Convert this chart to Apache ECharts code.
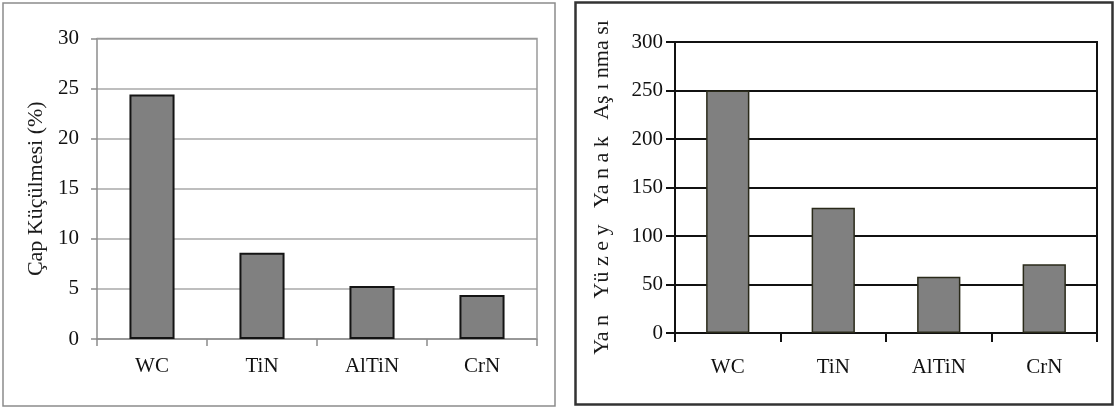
<!DOCTYPE html>
<html>
<head>
<meta charset="utf-8">
<script src="https://cdn.jsdelivr.net/npm/echarts@6/dist/echarts.min.js"></script>
<style>
  html, body { margin: 0; padding: 0; background: #fff; }
  #chart { width: 1116px; height: 409px; }
</style>
</head>
<body>
<div id="chart"></div>
<script>
// Coatings compared in both panels
const categories = ['WC', 'TiN', 'AlTiN', 'CrN'];
// Diameter reduction (%)
const capKuculmesi = [24.4, 8.6, 5.3, 4.4];
// Flank wear
const yanakAsinmasi = [250, 129, 58, 71];

const leftTicks = { min: 0, max: 30, interval: 5 };
const rightTicks = { min: 0, max: 300, interval: 50 };

const leftName = 'Çap Küçülmesi (%)';
const rightName = 'Ya n   Yü z e y   Ya n a k   Aş ı nma sı';

const FONT = '"Liberation Serif", "Times New Roman", serif';
const textStyle = { fontFamily: FONT, fontSize: 21, color: '#111111' };

const chart = echarts.init(document.getElementById('chart'), null, { renderer: 'canvas' });

chart.setOption({
  backgroundColor: '#ffffff',
  animation: false,
  graphic: [
    { type: 'rect', shape: { x: 3, y: 3, width: 552, height: 403 },
      style: { fill: 'none', stroke: '#8c8c8c', lineWidth: 1.5 }, z: 0 },
    { type: 'rect', shape: { x: 575.5, y: 2.5, width: 537, height: 402 },
      style: { fill: 'none', stroke: '#333333', lineWidth: 2.5 }, z: 0 },
    // plot-area frames (top & right edges)
    { type: 'polyline', shape: { points: [[97, 38.5], [537, 38.5], [537, 339]] },
      style: { fill: 'none', stroke: '#9a9a9a', lineWidth: 1.5 }, z: 1 },
    { type: 'polyline', shape: { points: [[675, 42], [1097, 42], [1097, 333]] },
      style: { fill: 'none', stroke: '#111111', lineWidth: 2 }, z: 1 }
  ],
  grid: [
    { left: 97, top: 38.5, width: 440, height: 300.5 },
    { left: 675, top: 42, width: 422, height: 291 }
  ],
  xAxis: [
    {
      gridIndex: 0, type: 'category', data: categories,
      axisLine: { lineStyle: { color: '#8c8c8c', width: 1.5 } },
      axisTick: { show: true, length: 7, lineStyle: { color: '#8c8c8c', width: 1.5 } },
      axisLabel: Object.assign({ margin: 17 }, textStyle)
    },
    {
      gridIndex: 1, type: 'category', data: categories,
      axisLine: { lineStyle: { color: '#111111', width: 2 } },
      axisTick: { show: true, length: 9, lineStyle: { color: '#111111', width: 2 } },
      axisLabel: Object.assign({ margin: 24 }, textStyle)
    }
  ],
  yAxis: [
    {
      gridIndex: 0, type: 'value',
      min: leftTicks.min, max: leftTicks.max, interval: leftTicks.interval,
      name: leftName, nameLocation: 'middle', nameRotate: 90, nameGap: 50,
      nameTextStyle: { fontFamily: FONT, fontSize: 22, color: '#1a1a1a' },
      axisLine: { show: true, lineStyle: { color: '#8c8c8c', width: 1.5 } },
      axisTick: { show: true, length: 6, lineStyle: { color: '#8c8c8c', width: 1.5 } },
      axisLabel: Object.assign({ margin: 18 }, textStyle),
      splitLine: { show: true, lineStyle: { color: '#a8a8a8', width: 1.5 } }
    },
    {
      gridIndex: 1, type: 'value',
      min: rightTicks.min, max: rightTicks.max, interval: rightTicks.interval,
      name: rightName, nameLocation: 'middle', nameRotate: 90, nameGap: 62,
      nameTextStyle: { fontFamily: FONT, fontSize: 22, color: '#1a1a1a' },
      axisLine: { show: true, lineStyle: { color: '#111111', width: 2 } },
      axisTick: { show: true, length: 9, lineStyle: { color: '#111111', width: 2 } },
      axisLabel: Object.assign({ margin: 12 }, textStyle),
      splitLine: { show: true, lineStyle: { color: '#111111', width: 2 } }
    }
  ],
  series: [
    {
      type: 'bar', xAxisIndex: 0, yAxisIndex: 0, data: capKuculmesi,
      barWidth: '41%',
      itemStyle: { color: '#808080', borderColor: '#141414', borderWidth: 2 },
      z: 3
    },
    {
      type: 'bar', xAxisIndex: 1, yAxisIndex: 1, data: yanakAsinmasi,
      barWidth: '41%',
      itemStyle: { color: '#808080', borderColor: '#2a2a1a', borderWidth: 1.5 },
      z: 3
    }
  ]
});
</script>
</body>
</html>
